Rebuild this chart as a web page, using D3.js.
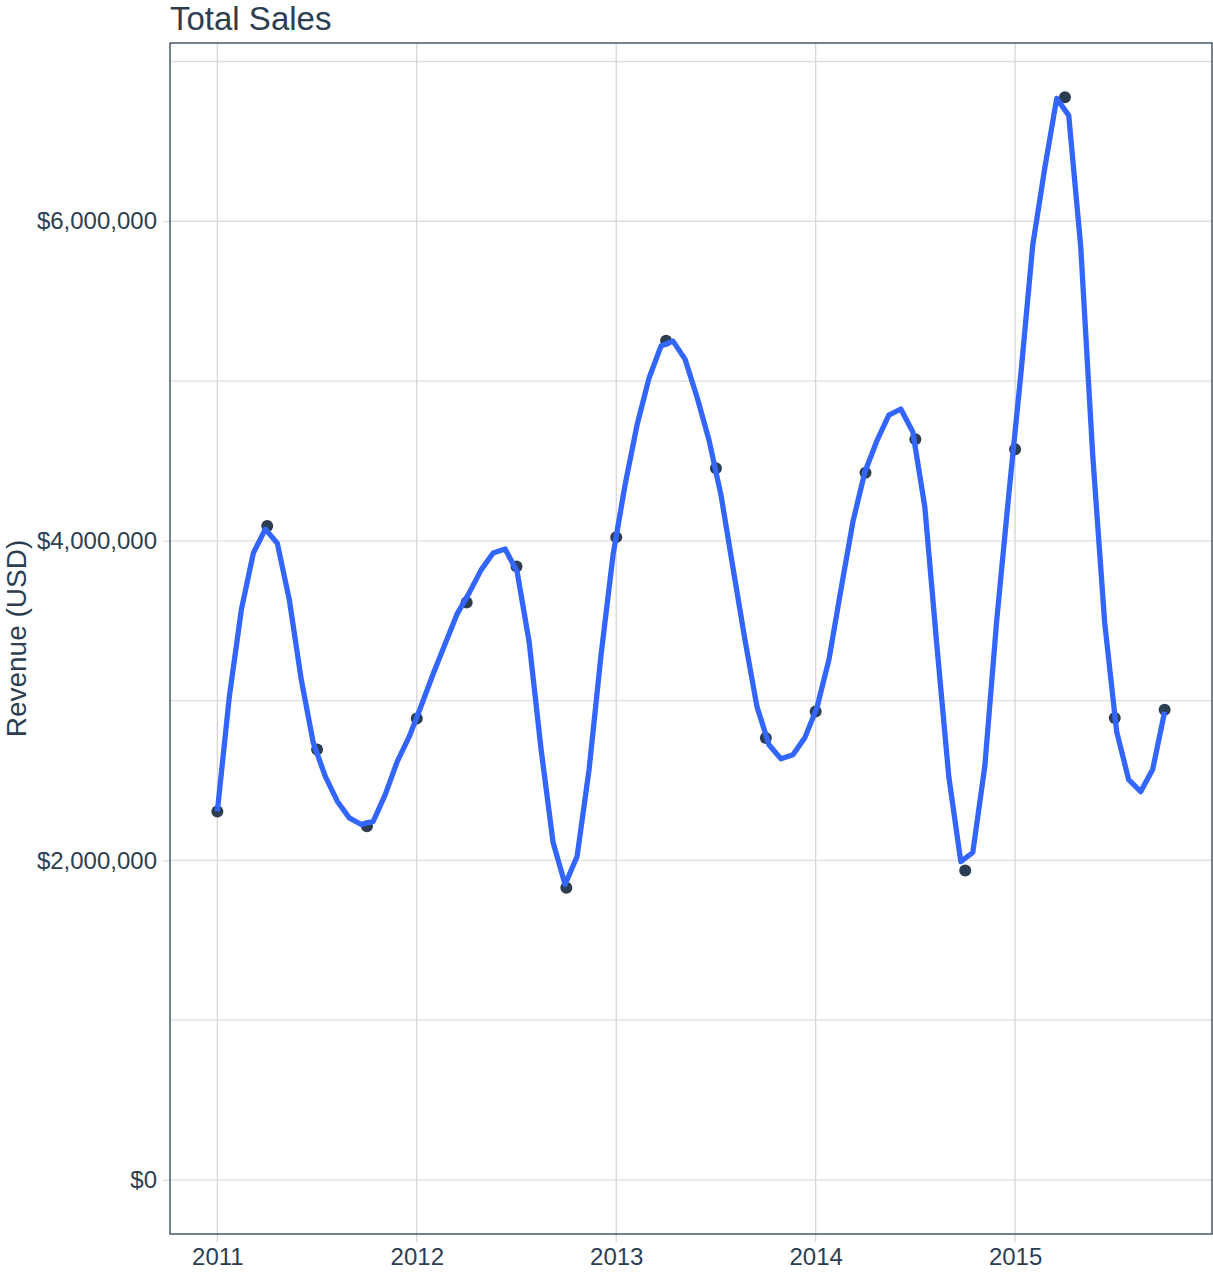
<!DOCTYPE html>
<html>
<head>
<meta charset="utf-8">
<script src="https://cdn.jsdelivr.net/npm/d3@7"></script>
<style>
  body { margin: 0; background: #fff; }
  text { font-family: "Liberation Sans", Arial, sans-serif; fill: #2c3e50; }
</style>
</head>
<body>
<div id="chart"></div>
<script>
// quarterly revenue (millions USD)
const quarters = [2011.0, 2011.25, 2011.5, 2011.75, 2012.0, 2012.25, 2012.5, 2012.75,
                  2013.0, 2013.25, 2013.5, 2013.75, 2014.0, 2014.25, 2014.5, 2014.75,
                  2015.0, 2015.25, 2015.5, 2015.75];
const revenue = [2.305, 4.093, 2.693, 2.213, 2.888, 3.614, 3.839, 1.828,
                 4.023, 5.252, 4.454, 2.766, 2.932, 4.426, 4.635, 1.936,
                 4.573, 6.777, 2.891, 2.943];

// smoothed trend line, 80 evenly spaced vertices from 2011.0 to 2015.75
const smoothStart = 2011.0, smoothEnd = 2015.75;
const smooth = [2.307, 3.026, 3.568, 3.923, 4.073, 3.985, 3.631, 3.130, 2.735, 2.526,
                2.370, 2.266, 2.224, 2.244, 2.411, 2.618, 2.774, 2.968, 3.168, 3.355,
                3.543, 3.674, 3.818, 3.924, 3.949, 3.806, 3.368, 2.693, 2.111, 1.849,
                2.024, 2.568, 3.287, 3.912, 4.349, 4.725, 5.018, 5.219, 5.250, 5.137,
                4.900, 4.631, 4.287, 3.831, 3.380, 2.962, 2.724, 2.636, 2.661, 2.768,
                2.955, 3.255, 3.693, 4.118, 4.431, 4.625, 4.787, 4.825, 4.681, 4.212,
                3.349, 2.524, 1.992, 2.049, 2.586, 3.505, 4.287, 5.037, 5.850, 6.331,
                6.769, 6.663, 5.844, 4.537, 3.487, 2.805, 2.505, 2.430, 2.568, 2.930];

const yMajor = [0, 2000000, 4000000, 6000000];
const yMinor = [1000000, 3000000, 5000000, 7000000];
const xTicks = [2011, 2012, 2013, 2014, 2015];

const W = 1213, H = 1275;
const margin = {top: 43, right: 1, bottom: 41, left: 170};
const width = W - margin.left - margin.right,
      height = H - margin.top - margin.bottom;

const svg = d3.select("#chart").append("svg")
  .attr("width", W)
  .attr("height", H);

const g = svg.append("g")
  .attr("transform", "translate(" + margin.left + "," + margin.top + ")");

// ggplot style 5% expansion
const x = d3.scaleLinear().domain([2010.7625, 2015.9875]).range([0, width]);
const y = d3.scaleLinear().domain([-338850, 7115850]).range([height, 0]);

// grid
g.selectAll(".hgrid")
  .data(yMajor.concat(yMinor))
  .enter().append("line")
  .attr("x1", 0).attr("x2", width)
  .attr("y1", d => y(d)).attr("y2", d => y(d))
  .attr("stroke", "#dedede").attr("stroke-width", 1.3);

g.selectAll(".vgrid")
  .data(xTicks)
  .enter().append("line")
  .attr("x1", d => x(d)).attr("x2", d => x(d))
  .attr("y1", 0).attr("y2", height + 8)
  .attr("stroke", "#d6d6d6").attr("stroke-width", 1.3);

// axes
const yAxis = g.append("g")
  .call(d3.axisLeft(y).tickValues(yMajor).tickSize(7).tickPadding(6)
    .tickFormat(d => "$" + d3.format(",")(d)));
yAxis.select(".domain").remove();
yAxis.selectAll("line").attr("stroke", "#dedede").attr("stroke-width", 1.3);
yAxis.selectAll("text").style("font-size", "24px").attr("fill", "#2c3e50");

const xAxis = g.append("g")
  .attr("transform", "translate(0," + height + ")")
  .call(d3.axisBottom(x).tickValues(xTicks).tickSize(0).tickPadding(14)
    .tickFormat(d3.format("d")));
xAxis.select(".domain").remove();
xAxis.selectAll("text").style("font-size", "24px").attr("fill", "#2c3e50");

// smoothed line
const sx = d3.scaleLinear().domain([0, smooth.length - 1]).range([smoothStart, smoothEnd]);
const line = d3.line()
  .x((d, i) => x(sx(i)))
  .y(d => y(d * 1e6));

// points
g.selectAll(".pt")
  .data(quarters)
  .enter().append("circle")
  .attr("cx", d => x(d))
  .attr("cy", (d, i) => y(revenue[i] * 1e6))
  .attr("r", 6)
  .attr("fill", "#2c3e50");

g.append("path")
  .datum(smooth)
  .attr("d", line)
  .attr("fill", "none")
  .attr("stroke", "#3366ff")
  .attr("stroke-width", 5.3)
  .attr("stroke-linejoin", "round");

// panel border
g.append("rect")
  .attr("width", width).attr("height", height)
  .attr("fill", "none")
  .attr("stroke", "#2c3e50").attr("stroke-width", 1.3);

// title and y label
svg.append("text")
  .attr("x", margin.left)
  .attr("y", 30)
  .style("font-size", "33px")
  .text("Total Sales");

svg.append("text")
  .attr("transform", "translate(26," + (margin.top + height / 2) + ") rotate(-90)")
  .attr("text-anchor", "middle")
  .style("font-size", "28px")
  .text("Revenue (USD)");
</script>
</body>
</html>
